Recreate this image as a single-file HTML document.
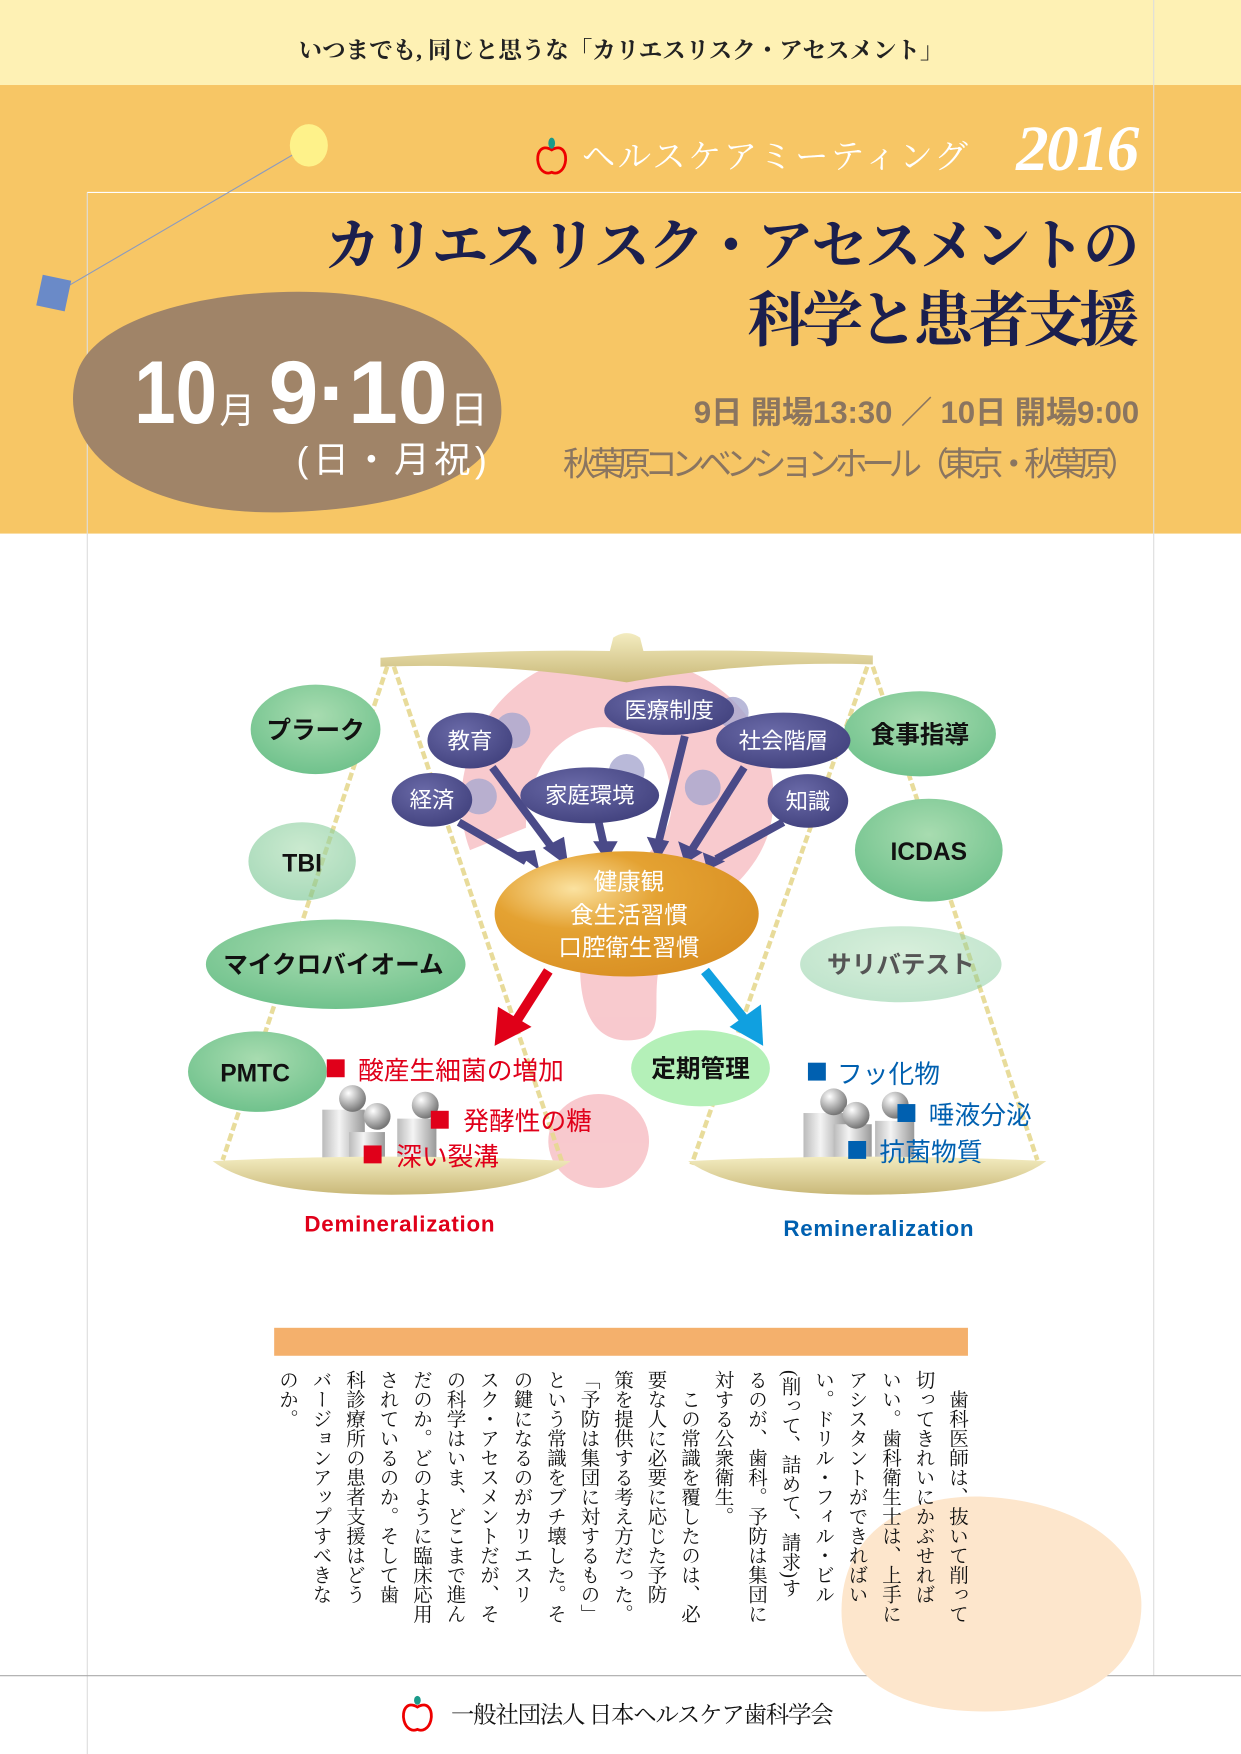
<!DOCTYPE html>
<html><head><meta charset="utf-8"><style>
html,body{margin:0;padding:0;background:#fff}
#wrap{position:relative;width:1241px;height:1754px;overflow:hidden}
svg{position:absolute;left:0;top:0}
.vt{position:absolute;writing-mode:vertical-rl;font-family:"Liberation Serif","Noto Serif CJK SC",serif;font-size:19.5px;line-height:33.5px;letter-spacing:0px;color:#111;top:1370px;right:268px;height:250px;white-space:nowrap}
</style></head><body><div id="wrap">
<svg width="1241" height="1754" viewBox="0 0 1109 1568" preserveAspectRatio="none" xmlns="http://www.w3.org/2000/svg">
<defs>
<radialGradient id="og" cx="0.3" cy="0.3" r="0.8"><stop offset="0" stop-color="#fbe2a0"/><stop offset="0.4" stop-color="#e4a232"/><stop offset="1" stop-color="#d88e22"/></radialGradient>
<radialGradient id="pg" cx="0.4" cy="0.35" r="0.8"><stop offset="0" stop-color="#6a6aa8"/><stop offset="1" stop-color="#3c3c78"/></radialGradient>
<radialGradient id="gg" cx="0.5" cy="0.35" r="0.7"><stop offset="0" stop-color="#a8dcb0"/><stop offset="1" stop-color="#6cc08a"/></radialGradient>
<linearGradient id="pan" x1="0" y1="0" x2="0" y2="1"><stop offset="0" stop-color="#f3ecc0"/><stop offset="1" stop-color="#c9b878"/></linearGradient>
<linearGradient id="cyl" x1="0" y1="0" x2="1" y2="0"><stop offset="0" stop-color="#bbb"/><stop offset="0.4" stop-color="#f4f4f4"/><stop offset="1" stop-color="#999"/></linearGradient>
<radialGradient id="ball" cx="0.35" cy="0.3" r="0.7"><stop offset="0" stop-color="#fff"/><stop offset="1" stop-color="#777"/></radialGradient>
</defs>
<rect x="0" y="0" width="1109" height="76" fill="#fef1b4"/>
<rect x="0" y="76" width="1109" height="401" fill="#f7c665"/>
<text x="555" y="52" text-anchor="middle" font-family="Liberation Serif,Noto Serif CJK SC,serif" font-size="21" font-weight="bold" fill="#222">いつまでも, 同じと思うな「カリエスリスク・アセスメント」</text>
<line x1="1031" y1="0" x2="1031" y2="1498" stroke="#ddd" stroke-width="1"/>
<line x1="78" y1="172" x2="78" y2="1568" stroke="#ddd" stroke-width="1"/>
<line x1="78" y1="172" x2="1109" y2="172" stroke="#fff" stroke-width="1"/>
<line x1="0" y1="1498" x2="1109" y2="1498" stroke="#aaa" stroke-width="1"/>
<line x1="276" y1="130" x2="50" y2="262" stroke="#8a9ac0" stroke-width="1"/>
<ellipse cx="276" cy="130" rx="17" ry="19" fill="#fef28a"/>
<rect x="35" y="248" width="26" height="28" fill="#6a8ac8" transform="rotate(12 48 262)"/>
<g transform="translate(493,140)"><path d="M0,-6 C-10,-12 -14,-2 -12,6 C-10,14 -4,16 0,14 C4,16 10,14 12,6 C14,-2 10,-12 0,-6Z" fill="none" stroke="#e00" stroke-width="2.5"/><ellipse cx="0" cy="-12" rx="3" ry="5" fill="#1a9a8a"/></g>
<text x="520" y="150" font-family="Liberation Serif,Noto Serif CJK SC,serif" font-size="30" fill="#fff" textLength="345">ヘルスケアミーティング</text>
<text x="908" y="152" font-family="Liberation Serif,serif" font-size="58" font-style="italic" font-weight="bold" fill="#fff" textLength="110">2016</text>
<text x="1018" y="237" text-anchor="end" font-family="Liberation Serif,Noto Serif CJK SC,serif" font-size="50" font-weight="bold" fill="#1b1f4e" textLength="728">カリエスリスク・アセスメントの</text>
<text x="1018" y="305" text-anchor="end" font-family="Liberation Serif,Noto Serif CJK SC,serif" font-size="54" font-weight="bold" fill="#1b1f4e" textLength="350">科学と患者支援</text>
<path d="M70,330 C90,280 200,255 300,262 C400,270 450,320 448,370 C445,420 380,455 250,458 C120,460 45,400 70,330Z" fill="#a08468"/>
<text x="120" y="378" font-family="Liberation Sans,sans-serif" font-size="80" font-weight="bold" fill="#fff" textLength="74" lengthAdjust="spacingAndGlyphs">10</text>
<text x="196" y="378" font-family="Liberation Sans,Noto Sans CJK JP,sans-serif" font-size="32" fill="#fff">月</text>
<text x="240" y="378" font-family="Liberation Sans,sans-serif" font-size="80" font-weight="bold" fill="#fff" textLength="160" lengthAdjust="spacingAndGlyphs">9·10</text>
<text x="402" y="378" font-family="Liberation Sans,Noto Sans CJK JP,sans-serif" font-size="34" fill="#fff">日</text>
<text x="265" y="422" font-family="Liberation Sans,Noto Sans CJK JP,sans-serif" font-size="32" fill="#fff" textLength="170">(日・月祝)</text>
<text x="1018" y="378" text-anchor="end" font-family="Liberation Sans,Noto Sans CJK JP,sans-serif" font-size="28" font-weight="bold" fill="#8a7560" textLength="398">9日 開場13:30 ／ 10日 開場9:00</text>
<text x="1018" y="425" text-anchor="end" font-family="Liberation Sans,Noto Sans CJK JP,sans-serif" font-size="30" fill="#8a7560" textLength="515">秋葉原コンベンションホール（東京・秋葉原）</text>

<g opacity="0.75" fill="#f6b8be">
<path d="M540,585 C650,585 700,660 690,730 C680,800 600,820 590,860 C580,900 600,930 560,930 C520,930 515,880 520,840 C525,790 600,770 600,720 C600,660 560,650 540,650 C500,650 470,690 470,740 L420,760 C390,680 450,585 540,585Z"/>
<ellipse cx="535" cy="1020" rx="45" ry="42"/>
</g>
<g stroke="#e6d890" stroke-width="4" stroke-dasharray="7,3" fill="none" opacity="0.9">
<line x1="346" y1="596" x2="199" y2="1037"/><line x1="352" y1="596" x2="503" y2="1041"/>
<line x1="775" y1="596" x2="618" y2="1041"/><line x1="780" y1="596" x2="927" y2="1037"/>
</g>
<path d="M340,588 Q450,580 545,582 L548,570 Q560,562 572,570 L575,582 Q680,580 780,586 L780,594 Q670,590 560,610 Q450,592 340,596Z" fill="url(#pan)"/>
<g fill="url(#gg)">
<ellipse cx="282" cy="652" rx="58" ry="40"/>
<ellipse cx="270" cy="770" rx="48" ry="35" opacity="0.6"/>
<ellipse cx="300" cy="862" rx="116" ry="40"/>
<ellipse cx="230" cy="958" rx="62" ry="36"/>
<ellipse cx="822" cy="656" rx="68" ry="38"/>
<ellipse cx="830" cy="760" rx="66" ry="46"/>
<ellipse cx="805" cy="862" rx="90" ry="34" opacity="0.45"/>
</g>
<ellipse cx="626" cy="955" rx="62" ry="34" fill="#b4f0b8"/>
<g font-family="Liberation Sans,Noto Sans CJK JP,sans-serif" font-size="22" font-weight="bold" fill="#111" text-anchor="middle">
<text x="282" y="660">プラーク</text><text x="270" y="779">TBI</text><text x="298" y="870">マイクロバイオーム</text><text x="228" y="967">PMTC</text>
<text x="822" y="664">食事指導</text><text x="830" y="769">ICDAS</text><text x="805" y="870" fill="#555">サリバテスト</text><text x="626" y="963">定期管理</text>
</g>
<g fill="#a8a8d0" opacity="0.8"><circle cx="458" cy="653" r="16"/><circle cx="655" cy="637" r="14"/><circle cx="560" cy="690" r="16"/><circle cx="628" cy="704" r="16"/><circle cx="428" cy="712" r="16"/></g>
<g stroke="#4a4a88" stroke-width="7" fill="none">
<line x1="440" y1="686" x2="495" y2="760"/><line x1="410" y1="735" x2="470" y2="770"/><line x1="535" y1="735" x2="540" y2="757"/>
<line x1="612" y1="658" x2="588" y2="755"/><line x1="665" y1="686" x2="618" y2="760"/><line x1="700" y1="735" x2="640" y2="768"/>
</g>
<g fill="#4a4a88">
<polygon points="485,758 508,775 504,748"/><polygon points="460,762 482,778 478,760"/><polygon points="530,752 542,770 552,752"/>
<polygon points="578,748 588,770 598,752"/><polygon points="606,752 612,772 628,762"/><polygon points="628,762 632,778 648,770"/>
</g>
<g fill="url(#pg)">
<ellipse cx="420" cy="662" rx="38" ry="25"/><ellipse cx="598" cy="635" rx="58" ry="22"/><ellipse cx="700" cy="662" rx="60" ry="25"/>
<ellipse cx="386" cy="715" rx="36" ry="24"/><ellipse cx="527" cy="711" rx="62" ry="25"/><ellipse cx="722" cy="716" rx="36" ry="24"/>
</g>
<g font-family="Liberation Sans,Noto Sans CJK JP,sans-serif" font-size="20" fill="#fff" text-anchor="middle">
<text x="420" y="669">教育</text><text x="598" y="642">医療制度</text><text x="700" y="669">社会階層</text><text x="386" y="722">経済</text><text x="527" y="718">家庭環境</text><text x="722" y="723">知識</text>
</g>
<ellipse cx="560" cy="817" rx="118" ry="56" fill="url(#og)"/>
<g font-family="Liberation Sans,Noto Sans CJK JP,sans-serif" font-size="21" fill="#fff" text-anchor="middle">
<text x="562" y="795">健康観</text><text x="562" y="825">食生活習慣</text><text x="562" y="854">口腔衛生習慣</text>
</g>
<line x1="490" y1="868" x2="460" y2="915" stroke="#e00018" stroke-width="9"/>
<polygon points="442,935 445,900 475,918" fill="#e00018"/>
<line x1="630" y1="868" x2="668" y2="915" stroke="#10a0e0" stroke-width="9"/>
<polygon points="682,935 652,918 680,898" fill="#10a0e0"/>
<g>
<rect x="288" y="992" width="38" height="52" fill="url(#cyl)"/><rect x="312" y="1012" width="32" height="34" fill="url(#cyl)"/><rect x="355" y="1000" width="35" height="45" fill="url(#cyl)"/>
<circle cx="315" cy="982" r="12" fill="url(#ball)"/><circle cx="337" cy="998" r="12" fill="url(#ball)"/><circle cx="380" cy="988" r="12" fill="url(#ball)"/>
<rect x="718" y="995" width="38" height="50" fill="url(#cyl)"/><rect x="745" y="1005" width="34" height="40" fill="url(#cyl)"/><rect x="782" y="1002" width="35" height="43" fill="url(#cyl)"/>
<circle cx="745" cy="985" r="12" fill="url(#ball)"/><circle cx="765" cy="997" r="12" fill="url(#ball)"/><circle cx="800" cy="988" r="12" fill="url(#ball)"/>
</g>
<path d="M190,1038 Q350,1030 510,1038 Q470,1068 350,1068 Q230,1068 190,1038Z" fill="url(#pan)"/>
<path d="M615,1038 Q775,1030 935,1038 Q895,1068 775,1068 Q655,1068 615,1038Z" fill="url(#pan)"/>
<g font-family="Liberation Sans,Noto Sans CJK JP,sans-serif" font-size="23" fill="#e0001a">
<rect x="292" y="947" width="16" height="16"/><text x="320" y="965">酸産生細菌の増加</text>
<rect x="385" y="993" width="16" height="16"/><text x="414" y="1010">発酵性の糖</text>
<rect x="325" y="1024" width="16" height="16"/><text x="354" y="1042">深い裂溝</text>
</g>
<g font-family="Liberation Sans,Noto Sans CJK JP,sans-serif" font-size="23" fill="#0060b0">
<rect x="722" y="950" width="16" height="16"/><text x="748" y="968">フッ化物</text>
<rect x="802" y="987" width="16" height="16"/><text x="830" y="1005">唾液分泌</text>
<rect x="758" y="1020" width="16" height="16"/><text x="786" y="1038">抗菌物質</text>
</g>
<text x="272" y="1101" font-family="Liberation Sans,sans-serif" font-size="20" font-weight="bold" fill="#e0001a" textLength="170">Demineralization</text>
<text x="700" y="1105" font-family="Liberation Sans,sans-serif" font-size="20" font-weight="bold" fill="#0060b0" textLength="170">Remineralization</text>
<path d="M752,1440 C752,1370 810,1335 880,1338 C960,1342 1020,1380 1020,1435 C1020,1495 960,1530 880,1530 C800,1530 752,1500 752,1440Z" fill="#fde6cc"/>
<rect x="245" y="1187" width="620" height="25" fill="#f4b06c"/>
<g transform="translate(373,1532)"><path d="M0,-6 C-10,-12 -14,-2 -12,6 C-10,14 -4,16 0,14 C4,16 10,14 12,6 C14,-2 10,-12 0,-6Z" fill="none" stroke="#e00" stroke-width="2.5"/><ellipse cx="0" cy="-12" rx="3" ry="4" fill="#1a9a8a"/></g>
<text x="403" y="1540" font-family="Liberation Serif,Noto Serif CJK SC,serif" font-size="21" fill="#111" textLength="342">一般社団法人 日本ヘルスケア歯科学会</text>
</svg>
<div class="vt">　歯科医師は、抜いて削って<br>切ってきれいにかぶせれば<br>いい。歯科衛生士は、上手に<br>アシスタントができればい<br>い。ドリル・フィル・ビル<br>(削って、詰めて、請求)す<br>るのが、歯科。予防は集団に<br>対する公衆衛生。<br>　この常識を覆したのは、必<br>要な人に必要に応じた予防<br>策を提供する考え方だった。<br>「予防は集団に対するもの」<br>という常識をブチ壊した。そ<br>の鍵になるのがカリエスリ<br>スク・アセスメントだが、そ<br>の科学はいま、どこまで進ん<br>だのか。どのように臨床応用<br>されているのか。そして歯<br>科診療所の患者支援はどう<br>バージョンアップすべきな<br>のか。</div>
</div></body></html>
